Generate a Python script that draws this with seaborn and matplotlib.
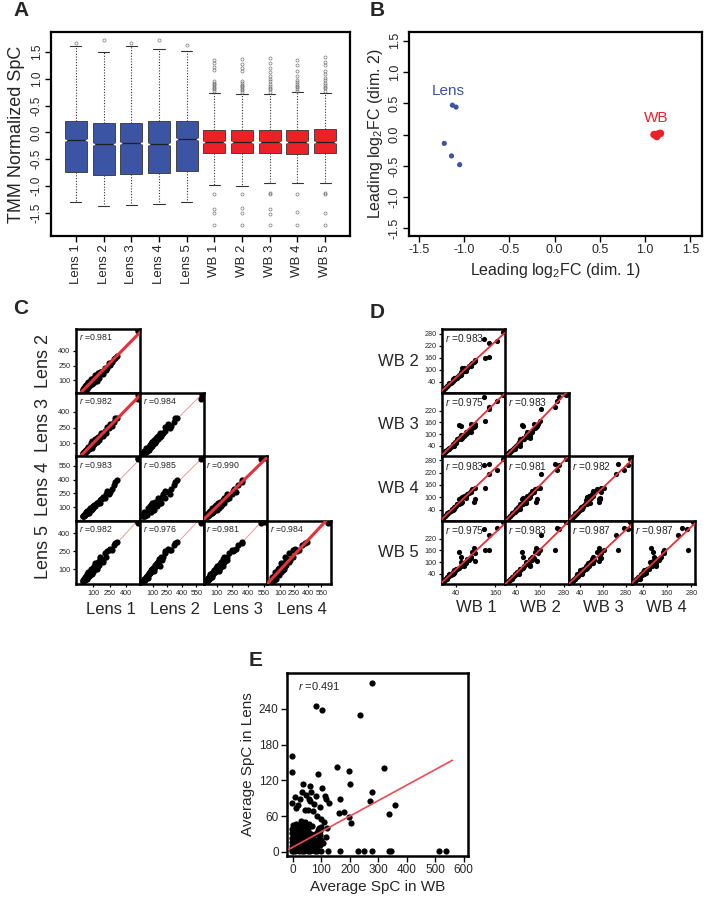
import numpy as np
import pandas as pd
import matplotlib
matplotlib.use("Agg")
import matplotlib.pyplot as plt
import seaborn as sns

# ================= DATA =================
# ---- Panel A : TMM normalised SpC box plots ----
samples_A = ["Lens 1", "Lens 2", "Lens 3", "Lens 4", "Lens 5", "WB 1", "WB 2", "WB 3", "WB 4", "WB 5"]
groups_A = ["Lens"] * 5 + ["WB"] * 5
q1_A = [-0.73, -0.79, -0.77, -0.75, -0.72, -0.39, -0.39, -0.39, -0.40, -0.39]
med_A = [-0.14, -0.21, -0.19, -0.21, -0.13, -0.18, -0.18, -0.18, -0.18, -0.18]
q3_A = [0.21, 0.18, 0.18, 0.21, 0.21, 0.05, 0.04, 0.04, 0.05, 0.07]
whislo_A = [-1.29, -1.37, -1.35, -1.34, -1.29, -0.98, -0.99, -0.95, -0.95, -0.95]
whishi_A = [1.61, 1.50, 1.60, 1.56, 1.51, 0.74, 0.72, 0.72, 0.75, 0.74]
fliers_A = [
    [1.66], [1.72], [1.66], [1.72], [1.63],
    [0.78, 0.80, 0.83, 0.85, 0.88, 0.90, 0.92, 0.95, 1.17, 1.22, 1.30, 1.35, -1.14, -1.42, -1.50, -1.73],
    [0.76, 0.79, 0.81, 0.84, 0.86, 0.89, 0.92, 0.96, 1.15, 1.20, 1.28, 1.36, -1.14, -1.40, -1.50, -1.73],
    [0.76, 0.80, 0.83, 0.86, 0.90, 0.95, 1.00, 1.05, 1.12, 1.20, 1.30, 1.38, -1.12, -1.15, -1.42, -1.52, -1.73],
    [0.78, 0.81, 0.84, 0.87, 0.90, 0.94, 0.98, 1.05, 1.15, 1.25, 1.35, -1.14, -1.48, -1.73],
    [0.78, 0.82, 0.85, 0.88, 0.92, 0.97, 1.02, 1.08, 1.15, 1.25, 1.32, 1.40, -1.12, -1.15, -1.50, -1.73],
]
yticks_A = [-1.5, -1.0, -0.5, 0.0, 0.5, 1.0, 1.5]
yticklabels_A = ["-1.5", "-1.0", "-0.5", "0.0", "-0.5", "1.0", "1.5"]

# ---- Panel B : MDS plot ----
dim1_B = [-1.13, -1.09, -1.22, -1.14, -1.05, 1.10, 1.13, 1.15, 1.17, 1.13]
dim2_B = [0.47, 0.44, -0.14, -0.34, -0.48, 0.00, -0.03, 0.01, 0.02, 0.00]
group_B = ["Lens"] * 5 + ["WB"] * 5

# ---- Panel C : Lens pairwise SpC (one value per protein and sample) ----
lens_names = ["Lens 1", "Lens 2", "Lens 3", "Lens 4", "Lens 5"]
lens1 = [515, 508, 320, 300, 290, 270, 255, 240, 225, 220, 205, 190, 175, 165, 155, 145, 135, 125, 118, 110,
         100, 95, 88, 80, 75, 70, 62, 58, 50, 45, 40, 35, 30, 25, 20, 16, 12, 8, 5, 2, 60, 40, 110, 90, 30, 50,
         150, 120, 80, 100, 130, 70, 20, 40, 160, 185, 55, 10, 25, 140, 90]
lens2 = [612, 600, 350, 330, 320, 290, 260, 275, 230, 210, 230, 200, 180, 170, 150, 160, 130, 140, 115, 120,
         95, 105, 80, 90, 70, 78, 60, 66, 48, 55, 38, 42, 28, 30, 18, 20, 10, 10, 4, 3, 40, 60, 85, 115, 50, 30,
         120, 150, 110, 70, 95, 50, 40, 15, 190, 160, 85, 25, 8, 175, 60]
lens3 = [565, 520, 340, 345, 300, 270, 280, 250, 260, 200, 215, 185, 195, 160, 165, 140, 150, 125, 130, 105,
         110, 95, 95, 78, 85, 65, 70, 55, 58, 44, 45, 32, 35, 22, 25, 15, 14, 7, 6, 2, 50, 35, 90, 120, 40, 55,
         135, 140, 100, 80, 110, 60, 30, 25, 175, 170, 70, 20, 12, 165, 55]
lens4 = [638, 620, 390, 370, 340, 300, 265, 245, 280, 240, 200, 210, 185, 175, 160, 150, 140, 135, 120, 115,
         105, 90, 100, 85, 70, 80, 65, 60, 52, 48, 42, 38, 30, 28, 22, 18, 12, 9, 5, 3, 35, 55, 125, 95, 45, 35,
         160, 110, 70, 110, 140, 90, 15, 50, 150, 200, 45, 5, 30, 150, 75]
lens5 = [495, 488, 330, 320, 300, 260, 270, 265, 250, 200, 235, 180, 175, 185, 150, 160, 130, 140, 115, 125,
         100, 110, 85, 95, 75, 70, 62, 68, 50, 52, 40, 36, 32, 26, 20, 17, 13, 8, 6, 2, 45, 60, 95, 85, 25, 40,
         140, 155, 105, 75, 100, 55, 35, 20, 200, 165, 80, 15, 10, 130, 65]
lens_lims = [(-59, 529), (-30, 625), (-25, 580), (-45, 650), (-22, 507)]
lens_row_ticks = [None, [100, 250, 400], [100, 250, 400], [100, 250, 400, 550], [100, 250, 400]]
lens_col_ticks = [[100, 250, 400], [100, 250, 400, 550], [100, 250, 400, 550], [100, 250, 400, 550]]
r_C = [[0.981], [0.982, 0.984], [0.983, 0.985, 0.990], [0.982, 0.976, 0.981, 0.984]]
thick_C = [(1, 0), (2, 0), (3, 2), (4, 3)]

# ---- Panel D : WB pairwise SpC ----
wb_names = ["WB 1", "WB 2", "WB 3", "WB 4", "WB 5"]
wb1 = [185, 165, 125, 140, 142, 128, 50, 55, 95, 98, 100, 90, 85, 80, 75, 70, 65, 60, 55, 50,
       45, 42, 38, 34, 30, 27, 24, 20, 17, 14, 11, 8, 6, 3, 1, 60, 35,
       30, 45, 20, 70, 85, 12, 55, 65]
wb2 = [290, 245, 255, 165, 235, 158, 71, 75, 140, 145, 150, 135, 130, 120, 110, 105, 95, 90, 80, 75,
       65, 60, 55, 50, 45, 40, 35, 30, 25, 20, 16, 12, 8, 4, 2, 110, 60,
       55, 60, 35, 95, 120, 22, 90, 110]
wb3 = [302, 270, 290, 230, 240, 165, 145, 143, 138, 140, 150, 130, 150, 115, 105, 100, 95, 85, 75, 78,
       70, 55, 58, 48, 42, 40, 33, 30, 24, 20, 15, 12, 8, 5, 1, 80, 40,
       50, 75, 25, 110, 110, 18, 95, 90]
wb4 = [288, 235, 258, 215, 262, 145, 90, 95, 80, 92, 145, 140, 125, 120, 115, 95, 100, 80, 85, 70,
       68, 60, 52, 55, 40, 45, 35, 28, 26, 18, 17, 10, 9, 4, 2, 100, 45,
       45, 70, 30, 105, 130, 25, 75, 105]
wb5 = [306, 275, 270, 240, 160, 162, 150, 125, 170, 105, 145, 150, 120, 110, 115, 100, 90, 95, 80, 72,
       65, 62, 55, 45, 48, 38, 35, 30, 22, 22, 14, 12, 7, 5, 2, 85, 60,
       40, 65, 40, 95, 125, 15, 100, 80]
wb_lims = [(-2, 190), (-15, 305), (-15, 310), (-12, 298), (-12, 312)]
wb_row_ticks = [None, [40, 100, 160, 220, 280], [40, 100, 160, 220], [40, 100, 160, 220, 280], [40, 100, 160, 220]]
wb_col_ticks = [[40, 160], [40, 160, 280], [40, 160, 280], [40, 160, 280]]
r_D = [[0.983], [0.975, 0.983], [0.983, 0.981, 0.982], [0.975, 0.983, 0.987, 0.987]]

# ---- Panel E : average SpC WB vs Lens ----
E_wb = [278, 80, 103, 234, -4, -4, 156, 320, 88, 197, 202, 102, 35, 59, 278, 269, 360, 338, 164, 178,
        161, 197, 205, 115, 127, 111, 80, 18, 6, -4, 12, 41, 52, 70, 60, 75, 95, 85, 100, 110,
        120, 115, 105, 88, 95, 30, 45, 65, 55, 25,
        123, 166, 229, 249, 278, 336, 343, 512, 537, 100, 85, 60, 40, 20, 0, -5,
        -3, 6, 14, 22, 30, 38, 46, 54, 62, 70, 78, 86,
        -2, 7, 15, 23, 31, 39, 47, 55, 63, 71, 79,
        -4, 5, 13, 21, 29, 37, 45, 53, 61, 69, 77,
        -3, 6, 14, 22, 30, 38, 46, 54, 62, 70,
        -2, 7, 15, 23, 31, 39, 47, 55, 63,
        -4, 5, 13, 21, 29, 37, 45, 53,
        0, 10, 20, 35, 50, 92, 98, 88,
        94, 100, 96, 90, 84, 76, 66, 58, 42, 27]
E_lens = [284, 244, 238, 230, 160, 134, 142, 141, 131, 135, 113, 107, 114, 111, 100, 86, 79, 64, 89, 66,
          65, 59, 49, 89, 82, 93, 93, 79, 92, 82, 73, 71, 70, 68, 85, 80, 75, 60, 55, 50,
          40, 25, 15, 20, 35, 100, 95, 100, 88, 88,
          1, 1, 1, 1, 1, 1, 1, 2, 1, 1, 1, 1, 1, 1, 1, 1,
          3, 2, 4, 3, 2, 4, 3, 2, 4, 3, 2, 5,
          10, 11, 9, 10, 11, 9, 10, 11, 9, 10, 12,
          17, 18, 16, 17, 18, 16, 17, 18, 16, 17, 18,
          24, 25, 23, 24, 25, 23, 24, 25, 23, 24,
          31, 32, 30, 31, 32, 30, 31, 32, 30,
          38, 39, 37, 38, 39, 37, 38, 39,
          45, 46, 44, 46, 45, 28, 42, 36,
          12, 20, 28, 40, 32, 30, 44, 46, 50, 52]
# fitted line: intercept, slope and its x extent
fit_E_intercept = 8.0
fit_E_slope = 0.26
fit_E_xrange = [-14, 560]

# ================= STYLE =================
sns.set_theme(style="ticks")
plt.rcParams["font.family"] = ["Liberation Sans", "DejaVu Sans"]
plt.rcParams["mathtext.fontset"] = "custom"
plt.rcParams["mathtext.rm"] = "Liberation Sans"
plt.rcParams["mathtext.it"] = "Liberation Sans:italic"
plt.rcParams["mathtext.bf"] = "Liberation Sans:bold"

BLUE = "#3B54A3"
RED = "#EC2027"
W, H = 711, 900

fig = plt.figure(figsize=(W / 100, H / 100), dpi=100)


def rect(l, t, r, b):
    return [l / W, 1 - b / H, (r - l) / W, (b - t) / H]


def frame(ax, lw):
    for s in ax.spines.values():
        s.set_visible(True)
        s.set_linewidth(lw)
        s.set_color("black")


# ---------- Panel A ----------
axA = fig.add_axes(rect(51, 32, 350, 236))
stats = []
for i in range(len(samples_A)):
    stats.append(dict(med=med_A[i], q1=q1_A[i], q3=q3_A[i], whislo=whislo_A[i],
                      whishi=whishi_A[i], fliers=fliers_A[i], label=samples_A[i]))
positions = np.arange(1, len(samples_A) + 1)
bp = axA.bxp(stats, positions=positions, widths=0.8, capwidths=0.4, patch_artist=True,
             boxprops=dict(edgecolor="#333333", linewidth=0.6),
             whiskerprops=dict(color="#333333", linestyle=(0, (1, 1.5)), linewidth=0.8),
             capprops=dict(color="#333333", linewidth=0.8),
             medianprops=dict(color="#222222", linewidth=0.9),
             flierprops=dict(marker="o", markersize=2.2, markerfacecolor="none",
                             markeredgecolor="#777777", markeredgewidth=0.5))
pal = {"Lens": BLUE, "WB": RED}
for patch, g in zip(bp["boxes"], groups_A):
    patch.set_facecolor(pal[g])
# notches at the medians
axA.scatter(positions - 0.4, med_A, marker=">", s=10, color="white", zorder=5, linewidths=0)
axA.scatter(positions + 0.4, med_A, marker="<", s=10, color="white", zorder=5, linewidths=0)
axA.set_xlim(0.1, 10.9)
axA.set_ylim(-1.93, 1.87)
axA.set_yticks(yticks_A)
axA.set_yticklabels(yticklabels_A, rotation=90, va="center", fontsize=8.5)
axA.set_xticks(positions)
axA.set_xticklabels(samples_A, rotation=90, fontsize=9.5)
axA.set_ylabel("TMM Normalized SpC", fontsize=13, labelpad=4)
axA.tick_params(length=4, width=1, color="black", pad=2)
frame(axA, 1.6)

# ---------- Panel B ----------
axB = fig.add_axes(rect(409, 32, 702, 236))
dfB = pd.DataFrame({"dim1": dim1_B, "dim2": dim2_B, "group": group_B})
sns.scatterplot(data=dfB, x="dim1", y="dim2", hue="group", palette=pal, size="group",
                sizes={"Lens": 14, "WB": 30}, legend=False, linewidth=0, ax=axB)
axB.set_xlim(-1.61, 1.63)
axB.set_ylim(-1.62, 1.64)
ticksB = [-1.5, -1.0, -0.5, 0.0, 0.5, 1.0, 1.5]
axB.set_xticks(ticksB)
axB.set_xticklabels([f"{t:.1f}" for t in ticksB], fontsize=9)
axB.set_yticks(ticksB)
axB.set_yticklabels([f"{t:.1f}" for t in ticksB], rotation=90, va="center", fontsize=9)
axB.set_xlabel(r"Leading log$_\mathregular{2}$FC (dim. 1)", fontsize=11.5, labelpad=3)
axB.set_ylabel(r"Leading log$_\mathregular{2}$FC (dim. 2)", fontsize=11.5, labelpad=3)
axB.text(-1.18, 0.70, "Lens", color=BLUE, fontsize=11, ha="center", va="center")
axB.text(1.12, 0.26, "WB", color=RED, fontsize=11, ha="center", va="center")
axB.tick_params(length=4, width=1, color="black", pad=2)
frame(axB, 1.6)


# ---------- Panels C & D ----------
def pair_grid(values, names, lims, row_ticks, col_ticks, rvals, col_edges, row_edges,
              thick_pairs, all_thick, row_label_kw, col_label_y, r_fs, dot):
    n = len(values)
    for i in range(1, n):
        for j in range(i):
            ax = fig.add_axes(rect(col_edges[j], row_edges[i - 1], col_edges[j + 1], row_edges[i]))
            ax.set_facecolor("white")
            ax.set_xlim(lims[j])
            ax.set_ylim(lims[i])
            thick = all_thick or (i, j) in thick_pairs
            sns.scatterplot(x=values[j], y=values[i], color="black", s=dot, linewidth=0,
                            ax=ax, zorder=2, legend=False)
            if thick:
                kw = dict(color="#E8303A", lw=2.2 if not all_thick else 1.3, zorder=3)
            else:
                kw = dict(color="#F28A8A", lw=0.6, zorder=1)
            sns.regplot(x=values[j], y=values[i], scatter=False, ci=None, truncate=False,
                        line_kws=kw, ax=ax)
            ax.set_xlim(lims[j])
            ax.set_ylim(lims[i])
            ax.set_xlabel("")
            ax.set_ylabel("")
            if j == 0:
                ax.set_yticks(row_ticks[i])
                ax.set_yticklabels([str(t) for t in row_ticks[i]], fontsize=5.2)
            else:
                ax.set_yticks([])
            if i == n - 1:
                ax.set_xticks(col_ticks[j])
                ax.set_xticklabels([str(t) for t in col_ticks[j]], fontsize=5.2)
            else:
                ax.set_xticks([])
            ax.tick_params(length=2.5, width=0.9, color="black", pad=1.5)
            ax.text(0.04, 0.95, r"$\mathit{r}$ =" + f"{rvals[i - 1][j]:.3f}", transform=ax.transAxes,
                    ha="left", va="top", fontsize=r_fs)
            frame(ax, 1.8)
        yc = (row_edges[i - 1] + row_edges[i]) / 2
        fig.text(row_label_kw["x"] / W, 1 - yc / H, names[i], rotation=row_label_kw["rot"],
                 ha=row_label_kw["ha"], va="center", fontsize=row_label_kw["fs"])
    for j in range(n - 1):
        xc = (col_edges[j] + col_edges[j + 1]) / 2 + 3
        fig.text(xc / W, 1 - col_label_y / H, names[j], ha="center", va="center", fontsize=12)


rows_CD = [329, 393, 456.5, 520.5, 584]
pair_grid([lens1, lens2, lens3, lens4, lens5], lens_names, lens_lims, lens_row_ticks, lens_col_ticks,
          r_C, [76, 140, 203.5, 267, 330.5], rows_CD, thick_C, False,
          dict(x=43, rot=90, ha="center", fs=13), 610, 6.3, 20)
pair_grid([wb1, wb2, wb3, wb4, wb5], wb_names, wb_lims, wb_row_ticks, wb_col_ticks,
          r_D, [442, 505, 569, 632, 695], rows_CD, [], True,
          dict(x=419, rot=0, ha="right", fs=12), 608, 7.3, 14)

# ---------- Panel E ----------
axE = fig.add_axes(rect(287, 673, 468, 856))
sns.scatterplot(x=E_wb, y=E_lens, color="black", s=20, linewidth=0, ax=axE, zorder=2)
fit_x = np.array(fit_E_xrange, dtype=float)
sns.lineplot(x=fit_x, y=fit_E_intercept + fit_E_slope * fit_x, color="#EE4A55", lw=1.2,
             ax=axE, zorder=3)
axE.set_xlim(-21, 615)
axE.set_ylim(-7, 300)
axE.set_xticks([0, 100, 200, 300, 400, 500, 600])
axE.set_xticklabels(["0", "100", "200", "300", "400", "500", "600"], fontsize=8.5)
axE.set_yticks([0, 60, 120, 180, 240])
axE.set_yticklabels(["0", "60", "120", "180", "240"], fontsize=8.5)
axE.set_xlabel("Average SpC in WB", fontsize=11, labelpad=3)
axE.set_ylabel("Average SpC in Lens", fontsize=11, labelpad=3)
axE.tick_params(length=4, width=1, color="black", pad=2)
axE.text(0.06, 0.93, r"$\mathit{r}$ =0.491", transform=axE.transAxes, ha="left", va="center", fontsize=8)
frame(axE, 1.8)

# ---------- panel letters ----------
for letter, (px, py) in {"A": (21, 10), "B": (377, 10), "C": (21, 309), "D": (377, 312), "E": (256, 660)}.items():
    fig.text(px / W, 1 - py / H, letter, fontsize=15, fontweight="bold", ha="center", va="center")

fig.savefig("out.png", dpi=100, facecolor="white")
